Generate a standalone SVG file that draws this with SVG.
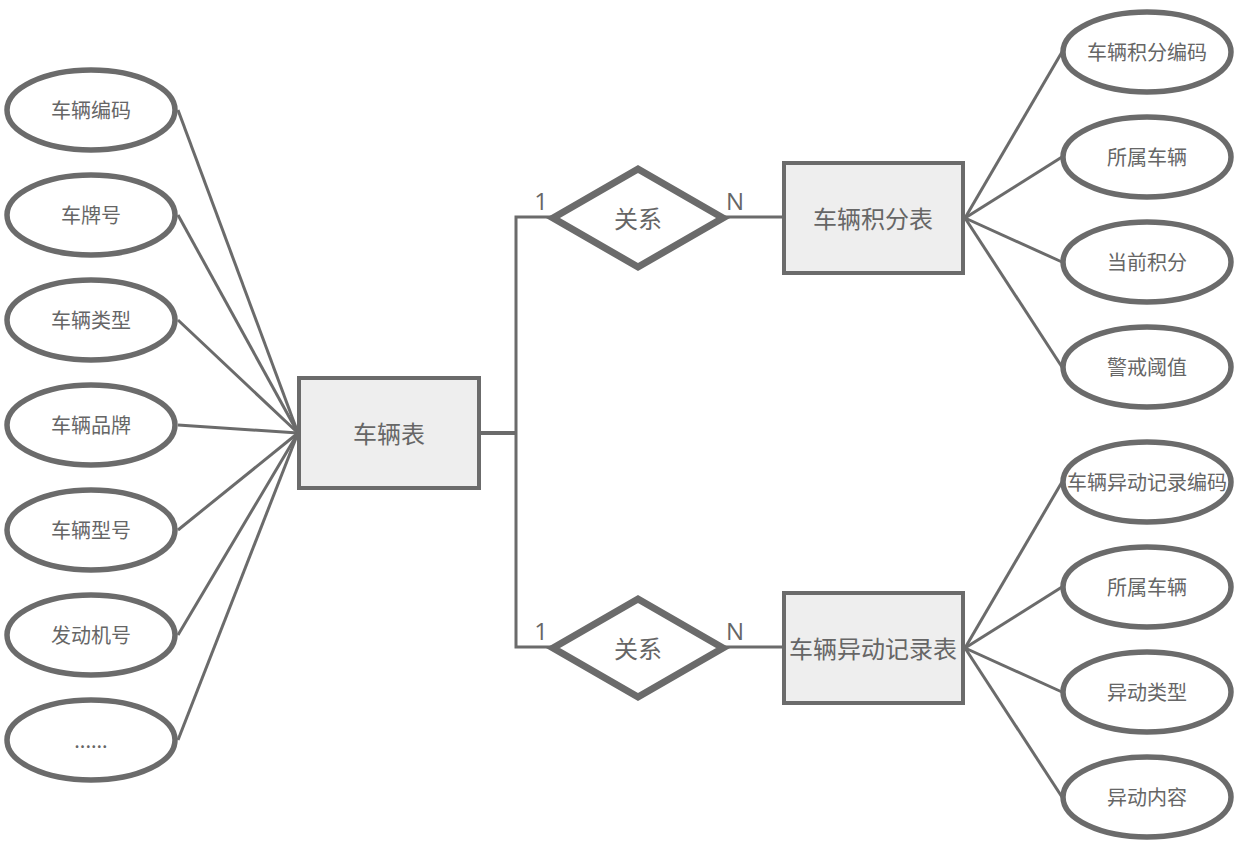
<svg xmlns="http://www.w3.org/2000/svg" width="1242" height="865" viewBox="0 0 1242 865">
<style>
.attr ellipse{fill:#fff;stroke:#6b6b6b;stroke-width:5.5}
.ent rect{fill:#eeeeee;stroke:#6b6b6b;stroke-width:4}
.rel polygon{fill:#fff;stroke:#6b6b6b;stroke-width:7;stroke-linejoin:miter}
text{font-family:"Noto Sans CJK SC","Liberation Sans",sans-serif;fill:#666;text-anchor:middle;dominant-baseline:central}
.a{font-size:20px}
.e{font-size:24px}
.c{font-size:24px;font-family:"Open Sans","Liberation Sans",sans-serif}
.conn line,.conn polyline{stroke:#6b6b6b;stroke-width:3;fill:none}
</style>
<rect width="1242" height="865" fill="#fff"/>
<g class="conn" id="connectors">
<line x1="178" y1="110" x2="298" y2="433"/>
<line x1="178" y1="215" x2="298" y2="433"/>
<line x1="178" y1="320" x2="298" y2="433"/>
<line x1="178" y1="425" x2="298" y2="433"/>
<line x1="178" y1="530" x2="298" y2="433"/>
<line x1="178" y1="635" x2="298" y2="433"/>
<line x1="178" y1="740" x2="298" y2="433"/>
<line x1="481" y1="433" x2="517" y2="433" style="stroke-width:4"/>
<polyline points="553,217 516,217 516,647 553,647"/>
<line x1="723" y1="217" x2="784" y2="217"/>
<line x1="723" y1="647" x2="784" y2="647"/>
<line x1="965" y1="218" x2="1062" y2="52"/>
<line x1="965" y1="218" x2="1062" y2="157"/>
<line x1="965" y1="218" x2="1062" y2="262"/>
<line x1="965" y1="218" x2="1062" y2="367"/>
<line x1="965" y1="648" x2="1062" y2="482"/>
<line x1="965" y1="648" x2="1062" y2="587"/>
<line x1="965" y1="648" x2="1062" y2="692"/>
<line x1="965" y1="648" x2="1062" y2="797"/>
<text class="c" x="541" y="200">1</text>
<text class="c" x="735" y="200">N</text>
<text class="c" x="541" y="630">1</text>
<text class="c" x="735" y="630">N</text>
</g>
<g id="ent-vehicle" class="ent"><rect x="299" y="378" width="180" height="110"/><text class="e" x="389" y="432">车辆表</text></g>
<g id="ent-points" class="ent"><rect x="784" y="163" width="179" height="110"/><text class="e" x="873" y="217">车辆积分表</text></g>
<g id="ent-change" class="ent"><rect x="784" y="593" width="179" height="110"/><text class="e" x="873" y="647">车辆异动记录表</text></g>
<g id="rel-1" class="rel"><polygon points="553,218 638,169 723,218 638,267"/><text class="e" x="638" y="217">关系</text></g>
<g id="rel-2" class="rel"><polygon points="553,648 638,599 723,648 638,697"/><text class="e" x="638" y="647">关系</text></g>
<g id="a-l1" class="attr"><ellipse cx="91" cy="110" rx="84" ry="40"/><text class="a" x="91" y="109">车辆编码</text></g>
<g id="a-l2" class="attr"><ellipse cx="91" cy="215" rx="84" ry="40"/><text class="a" x="91" y="214">车牌号</text></g>
<g id="a-l3" class="attr"><ellipse cx="91" cy="320" rx="84" ry="40"/><text class="a" x="91" y="319">车辆类型</text></g>
<g id="a-l4" class="attr"><ellipse cx="91" cy="425" rx="84" ry="40"/><text class="a" x="91" y="424">车辆品牌</text></g>
<g id="a-l5" class="attr"><ellipse cx="91" cy="530" rx="84" ry="40"/><text class="a" x="91" y="529">车辆型号</text></g>
<g id="a-l6" class="attr"><ellipse cx="91" cy="635" rx="84" ry="40"/><text class="a" x="91" y="634">发动机号</text></g>
<g id="a-l7" class="attr"><ellipse cx="91" cy="740" rx="84" ry="40"/><text class="a" x="91" y="739">......</text></g>
<g id="a-r1" class="attr"><ellipse cx="1147" cy="52" rx="84" ry="40"/><text class="a" x="1147" y="51">车辆积分编码</text></g>
<g id="a-r2" class="attr"><ellipse cx="1147" cy="157" rx="84" ry="40"/><text class="a" x="1147" y="156">所属车辆</text></g>
<g id="a-r3" class="attr"><ellipse cx="1147" cy="262" rx="84" ry="40"/><text class="a" x="1147" y="261">当前积分</text></g>
<g id="a-r4" class="attr"><ellipse cx="1147" cy="367" rx="84" ry="40"/><text class="a" x="1147" y="366">警戒阈值</text></g>
<g id="a-r5" class="attr"><ellipse cx="1147" cy="482" rx="84" ry="40"/><text class="a" x="1147" y="481">车辆异动记录编码</text></g>
<g id="a-r6" class="attr"><ellipse cx="1147" cy="587" rx="84" ry="40"/><text class="a" x="1147" y="586">所属车辆</text></g>
<g id="a-r7" class="attr"><ellipse cx="1147" cy="692" rx="84" ry="40"/><text class="a" x="1147" y="691">异动类型</text></g>
<g id="a-r8" class="attr"><ellipse cx="1147" cy="797" rx="84" ry="40"/><text class="a" x="1147" y="796">异动内容</text></g>
</svg>
